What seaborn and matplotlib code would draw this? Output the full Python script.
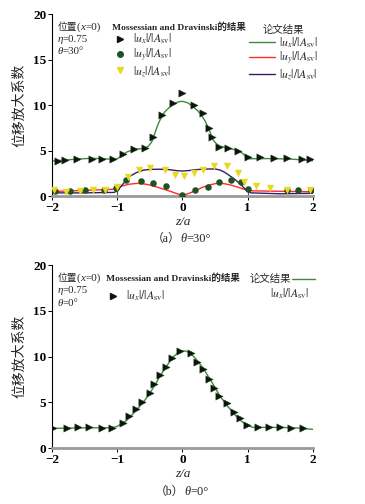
import seaborn as sns
import pandas as pd
import numpy as np
import matplotlib.pyplot as plt
from matplotlib.lines import Line2D

# ---- data ----
# (a) theta = 30 deg, Mossessian and Dravinski markers
ux_a_x = [-1.91, -1.80, -1.62, -1.39, -1.23, -1.06, -0.91, -0.74, -0.58, -0.45, -0.31, -0.15, 0.0,
          0.18, 0.31, 0.41, 0.45, 0.56, 0.69, 0.855, 1.01, 1.19, 1.40, 1.60, 1.83, 1.96]
ux_a_y = [3.88, 3.92, 4.03, 4.10, 4.03, 4.03, 4.60, 5.13, 5.24, 6.45, 8.90, 10.2, 11.35,
          10.0, 9.10, 7.44, 6.45, 5.42, 5.24, 4.98, 4.25, 4.25, 4.18, 4.14, 4.08, 4.03]

uy_a_x = [-1.95, -1.73, -1.50, -1.21, -1.02, -0.86, -0.64, -0.45, -0.26, 0.0, 0.19, 0.39,
          0.56, 0.74, 0.90, 1.01, 1.60, 1.77, 1.97]
uy_a_y = [0.58, 0.58, 0.66, 0.66, 0.84, 1.72, 1.66, 1.42, 1.10, 0.12, 0.62, 1.02,
          1.55, 1.76, 1.60, 0.80, 0.66, 0.66, 0.66]

uz_a_x = [-1.97, -1.78, -1.57, -1.37, -1.19, -1.01, -0.83, -0.66, -0.50, -0.27, -0.12, 0.02,
          0.17, 0.31, 0.49, 0.68, 0.85, 0.94, 1.12, 1.34, 1.60, 1.95]
uz_a_y = [0.66, 0.47, 0.58, 0.62, 0.66, 1.05, 2.08, 2.86, 3.13, 2.86, 2.35, 2.20,
          2.49, 2.90, 3.26, 3.30, 2.49, 1.57, 1.06, 0.84, 0.66, 0.66]

# (a) present results (curves)
cx_a_x = [-2.0, -1.6, -1.4, -1.2, -1.05, -1.0, -0.93, -0.85, -0.75, -0.65, -0.57, -0.52, -0.47,
          -0.42, -0.37, -0.32, -0.27, -0.2, -0.14, -0.07, 0.0, 0.08, 0.165, 0.23, 0.29, 0.35,
          0.40, 0.44, 0.47, 0.52, 0.575, 0.7, 0.83, 0.92, 0.98, 1.03, 1.3, 1.6, 1.8, 2.0]
cx_a_y = [3.85, 4.07, 4.15, 4.1, 4.03, 4.1, 4.45, 4.85, 5.13, 5.2, 5.24, 5.5, 5.97,
          7.0, 7.99, 8.7, 9.26, 9.75, 10.1, 10.35, 10.42, 10.25, 9.81, 9.4, 8.9, 8.2,
          7.44, 6.7, 6.15, 5.75, 5.49, 5.25, 5.05, 4.7, 4.25, 4.1, 4.12, 4.08, 4.0, 3.88]

cy_a_x = [-2.0, -1.5, -1.05, -1.0, -0.93, -0.82, -0.7, -0.6, -0.5, -0.4, -0.3, -0.2, -0.1, 0.0,
          0.1, 0.2, 0.3, 0.4, 0.52, 0.62, 0.72, 0.83, 0.92, 0.98, 1.03, 1.5, 2.0]
cy_a_y = [0.5, 0.62, 0.75, 0.85, 1.1, 1.3, 1.39, 1.35, 1.21, 1.0, 0.78, 0.55, 0.3, 0.07,
          0.3, 0.6, 0.95, 1.2, 1.39, 1.38, 1.25, 1.02, 0.8, 0.66, 0.58, 0.52, 0.47]

cz_a_x = [-2.0, -1.5, -1.05, -1.0, -0.95, -0.88, -0.8, -0.7, -0.6, -0.5, -0.35, -0.2, -0.1, 0.0,
          0.1, 0.2, 0.35, 0.5, 0.58, 0.65, 0.72, 0.8, 0.88, 0.95, 1.0, 1.05, 1.5, 2.0]
cz_a_y = [0.35, 0.35, 0.4, 0.55, 1.0, 1.6, 2.2, 2.6, 2.85, 2.93, 2.95, 2.9, 2.8, 2.75,
          2.8, 2.9, 2.97, 2.98, 2.85, 2.6, 2.25, 1.85, 1.35, 0.85, 0.5, 0.35, 0.25, 0.3]

# (b) theta = 0 deg
ux_b_x = [-1.98, -1.775, -1.60, -1.44, -1.24, -1.085, -0.91, -0.82, -0.72, -0.62, -0.50, -0.43,
          -0.345, -0.26, -0.165, -0.04, 0.125, 0.227, 0.319, 0.41, 0.48, 0.565, 0.687, 0.79,
          0.88, 0.99, 1.15, 1.33, 1.49, 1.66, 1.85]
ux_b_y = [2.15, 2.15, 2.26, 2.26, 2.22, 2.22, 2.70, 3.50, 4.23, 5.06, 6.04, 6.99,
          7.98, 8.89, 9.80, 10.63, 10.34, 9.43, 8.60, 7.50, 6.59, 5.68, 4.88, 3.97,
          3.25, 2.51, 2.26, 2.26, 2.26, 2.22, 2.15]

cx_b_x = [-2.0, -1.6, -1.3, -1.1, -1.01, -0.95, -0.88, -0.8, -0.73, -0.65, -0.575, -0.5, -0.42,
          -0.35, -0.27, -0.2, -0.14, -0.07, -0.01, 0.05, 0.115, 0.2, 0.32, 0.45, 0.575, 0.7,
          0.83, 0.92, 0.98, 1.08, 1.3, 1.5, 1.75, 2.0]
cx_b_y = [2.15, 2.2, 2.22, 2.22, 2.33, 2.6, 2.88, 3.4, 3.97, 4.6, 5.25, 6.0, 6.9,
          7.8, 8.7, 9.4, 9.98, 10.4, 10.63, 10.6, 10.4, 9.8, 8.7, 7.2, 5.68, 4.5,
          3.42, 2.85, 2.51, 2.26, 2.26, 2.26, 2.2, 2.04]

xticks = [-2, -1, 0, 1, 2]
xticklabels = ["\u22122", "\u22121", "0", "1", "2"]
yticks = [0, 5, 10, 15, 20]

GREEN = "#3f8a3f"
RED = "#ff2a2a"
PURPLE = "#3a1a66"
DKGREEN = "#1e5220"
YELLOW = "#e8d820"
FAM = ["Liberation Serif", "Noto Sans CJK SC"]

sns.set_style("ticks")
plt.rcParams["font.family"] = FAM
plt.rcParams["mathtext.fontset"] = "stix"

lab_x = r"$|u_x|/|A_{\rm sv}|$"
lab_y = r"$|u_y|/|A_{\rm sv}|$"
lab_z = r"$|u_z|/|A_{\rm sv}|$"

fig = plt.figure(figsize=(3.65, 5.04), dpi=100)
ax1 = fig.add_axes([0.1425, 0.611, 0.715, 0.361])
ax2 = fig.add_axes([0.1425, 0.111, 0.715, 0.363])


def rich(ax, x, y, parts, transform):
    # chain text pieces on one baseline so CJK glyphs and italic letters can be mixed
    s, st, sz = parts[0]
    t = ax.text(x, y, s, style=st, fontsize=sz, transform=transform,
                va="baseline", ha="left")
    for s, st, sz in parts[1:]:
        t = ax.annotate(s, xy=(1, y), xycoords=(t, transform), fontsize=sz, style=st,
                        va="baseline", ha="left", annotation_clip=False)
    return t


def style_axes(ax):
    ax.set_xlim(-2, 2)
    ax.set_ylim(0, 20)
    ax.set_xticks(xticks)
    ax.set_yticks(yticks)
    ax.set_xticklabels(xticklabels)
    ax.tick_params(axis="both", direction="out", length=3, width=0.7, labelsize=9.5, pad=1,
                   colors="black")
    for s in ["top", "right"]:
        ax.spines[s].set_visible(False)
    ax.spines["left"].set_linewidth(0.8)
    ax.spines["left"].set_color("black")
    ax.spines["bottom"].set_linewidth(2.0)
    ax.spines["bottom"].set_color("#9a9a9a")
    ax.set_xlabel("z/a", fontsize=9.5, style="italic", labelpad=2)
    ax.set_ylabel("位移放大系数", fontsize=10, labelpad=5)
    for t in ax.get_xticklabels() + ax.get_yticklabels():
        t.set_fontweight("bold")


def info_block(ax, theta):
    tr = ax.transAxes
    rich(ax, 0.02, 0.915, [("位置", "normal", 7), ("(", "normal", 8), ("x", "italic", 8),
                           ("=0)", "normal", 8)], tr)
    rich(ax, 0.02, 0.847, [("η", "italic", 7.8), ("=0.75", "normal", 7.8)], tr)
    rich(ax, 0.02, 0.779, [("θ", "italic", 7.8), ("=" + theta, "normal", 7.8)], tr)


mark_handles = [Line2D([], [], ls="none", marker=">", color="#111111", ms=4.5),
                Line2D([], [], ls="none", marker="o", color=DKGREEN, ms=4),
                Line2D([], [], ls="none", marker="v", color=YELLOW, ms=4.5)]
line_handles = [Line2D([], [], color=GREEN, lw=1.0),
                Line2D([], [], color=RED, lw=1.0),
                Line2D([], [], color=PURPLE, lw=1.0)]
title_bold = {"size": 6.8, "weight": "bold", "family": FAM}

# ---- (a) ----
ax = ax1
sns.lineplot(x=cx_a_x, y=cx_a_y, ax=ax, color=GREEN, lw=1.0, sort=False, estimator=None)
sns.lineplot(x=cy_a_x, y=cy_a_y, ax=ax, color=RED, lw=1.0, sort=False, estimator=None)
sns.lineplot(x=cz_a_x, y=cz_a_y, ax=ax, color=PURPLE, lw=1.0, sort=False, estimator=None)
ax.vlines([-1, 1], 0, 0.75, color="#555555", lw=0.8)
sns.scatterplot(x=ux_a_x, y=ux_a_y, ax=ax, marker=">", color="#111111", s=28, linewidth=0.3,
                edgecolor=DKGREEN, zorder=4)
sns.scatterplot(x=uy_a_x, y=uy_a_y, ax=ax, marker="o", color=DKGREEN, s=22, linewidth=0,
                zorder=4)
sns.scatterplot(x=uz_a_x, y=uz_a_y, ax=ax, marker="v", color=YELLOW, s=28, linewidth=0,
                zorder=4)
style_axes(ax)
info_block(ax, "30°")

leg1 = ax.legend(mark_handles, [lab_x, lab_y, lab_z], loc="upper left",
                 bbox_to_anchor=(0.2, 1.0), frameon=False, fontsize=8.5, handlelength=1.2,
                 handletextpad=0.5, labelspacing=0.0, borderaxespad=0.3, alignment="left",
                 title="Mossessian and Dravinski的结果", title_fontproperties=title_bold)
ax.add_artist(leg1)
ax.legend(line_handles, [lab_x, lab_y, lab_z], loc="upper left", bbox_to_anchor=(0.725, 0.985),
          frameon=False, fontsize=8.5, handlelength=2.2, handletextpad=0.3,
          labelspacing=0.0, borderaxespad=0.3, title="论文结果",
          title_fontproperties={"size": 7.5, "family": FAM})

# ---- (b) ----
ax = ax2
sns.lineplot(x=cx_b_x, y=cx_b_y, ax=ax, color=GREEN, lw=1.0, sort=False, estimator=None)
sns.scatterplot(x=ux_b_x, y=ux_b_y, ax=ax, marker=">", color="#111111", s=28, linewidth=0.3,
                edgecolor=DKGREEN, zorder=4)
style_axes(ax)
info_block(ax, "0°")

leg2 = ax.legend(mark_handles[:1], [lab_x], loc="upper left", bbox_to_anchor=(0.175, 1.0),
                 frameon=False, fontsize=8.5, handlelength=1.2, handletextpad=0.5,
                 borderaxespad=0.3, alignment="left",
                 title="Mossessian and Dravinski的结果", title_fontproperties=title_bold)
ax.add_artist(leg2)
ax.legend(line_handles[:1], ["论文结果"], loc="upper left", bbox_to_anchor=(0.73, 0.99),
          frameon=False, fontsize=7.5, handlelength=2.2, handletextpad=0.1,
          markerfirst=False, borderaxespad=0.3)
ax.text(0.985, 0.885, lab_x, transform=ax.transAxes, fontsize=8.5, ha="right", va="top")

# captions
rich(ax2, 0.415, 1 - 242 / 504, [("（a）", "normal", 8.5), ("θ", "italic", 9),
                                 ("=30°", "normal", 9)], fig.transFigure)
rich(ax2, 0.425, 1 - 495 / 504, [("（b）", "normal", 8.5), ("θ", "italic", 9),
                                 ("=0°", "normal", 9)], fig.transFigure)

fig.savefig("out.png", dpi=100)
